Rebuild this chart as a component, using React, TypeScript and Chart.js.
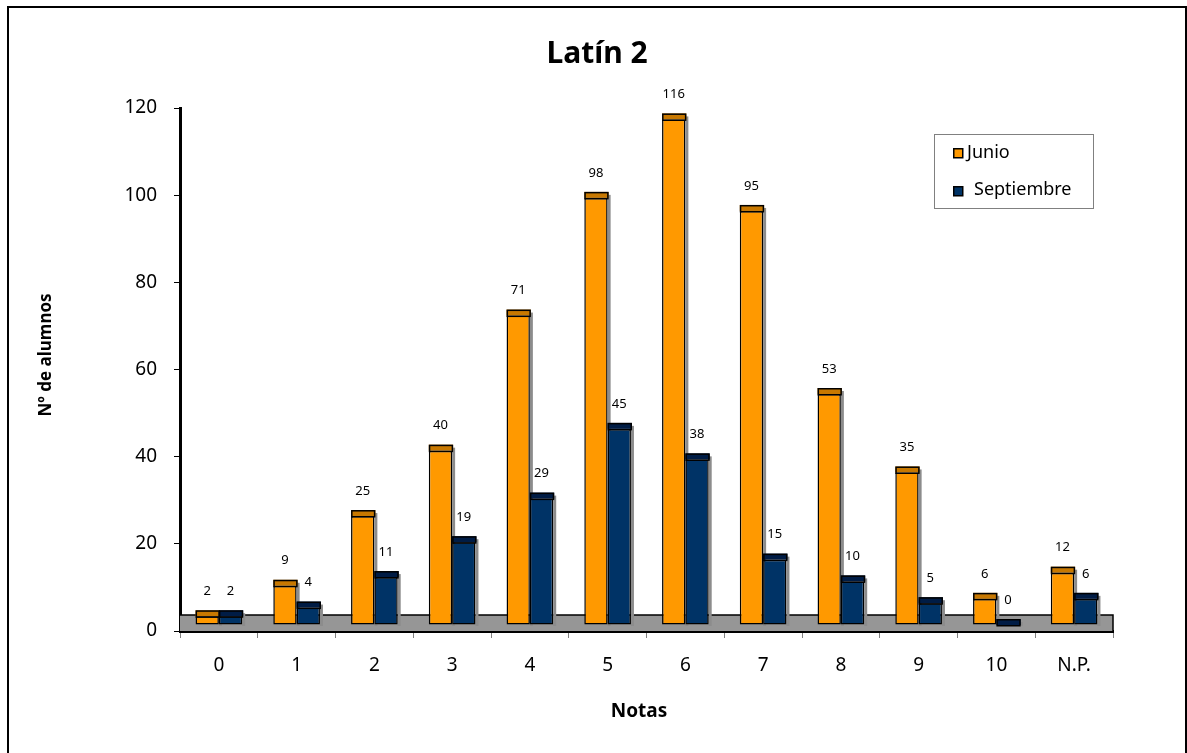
import React, { useEffect, useRef } from 'react';
import { Chart, registerables } from 'chart.js';

Chart.register(...registerables);

const categories = ['0', '1', '2', '3', '4', '5', '6', '7', '8', '9', '10', 'N.P.'];
const junio = [2, 9, 25, 40, 71, 98, 116, 95, 53, 35, 6, 12];
const septiembre = [2, 4, 11, 19, 29, 45, 38, 15, 10, 5, 0, 6];
const seriesNames = ['Junio', 'Septiembre'];
const yMin = 0;
const yMax = 120;
const yStep = 20;
const titleText = 'Latín 2';
const xTitle = 'Notas';
const yTitle = 'Nº de alumnos';

const FONT = '"Noto Sans", "DejaVu Sans", sans-serif';
const frontColors = ['#FF9900', '#003366'];
const capColors = ['#C87800', '#001C45'];
const SHIFT = 6;
const CAP = 6;

const decor = {
  id: 'decor',
  beforeDraw(chart: any) {
    const ctx = chart.ctx;
    ctx.save();
    ctx.fillStyle = '#ffffff';
    ctx.fillRect(0, 0, chart.width, chart.height);
    ctx.restore();
  },
  beforeDatasetsDraw(chart: any) {
    const ctx = chart.ctx;
    const { left, right, bottom } = chart.chartArea;
    ctx.save();
    // floor
    ctx.fillStyle = '#969696';
    ctx.fillRect(left, bottom - 16, right - left, 16);
    ctx.strokeStyle = '#000';
    ctx.lineWidth = 1.5;
    ctx.beginPath();
    ctx.moveTo(left, bottom - 16);
    ctx.lineTo(right, bottom - 16);
    ctx.lineTo(right, bottom);
    ctx.stroke();
    // side shadows
    const base = bottom - SHIFT;
    chart.data.datasets.forEach((ds: any, di: number) => {
      const meta = chart.getDatasetMeta(di);
      meta.data.forEach((el: any) => {
        const p = el.getProps(['x', 'y', 'width'], true);
        const r = p.x + p.width / 2;
        const top = p.y - SHIFT - CAP + 3;
        ctx.fillStyle = '#8c8c8c';
        ctx.fillRect(r, top, 3, base - top + 1);
      });
    });
    ctx.restore();
    ctx.save();
    ctx.translate(0, -SHIFT);
  },
  afterDatasetsDraw(chart: any) {
    const ctx = chart.ctx;
    ctx.restore();
    ctx.save();
    chart.data.datasets.forEach((ds: any, di: number) => {
      const meta = chart.getDatasetMeta(di);
      meta.data.forEach((el: any, i: number) => {
        const p = el.getProps(['x', 'y', 'width'], true);
        const l = p.x - p.width / 2;
        const top = p.y - SHIFT;
        ctx.fillStyle = capColors[di];
        ctx.fillRect(l, top - CAP, p.width + 1, CAP);
        ctx.strokeStyle = '#000';
        ctx.lineWidth = 1.5;
        ctx.strokeRect(l + 0.75, top - CAP + 0.75, p.width - 0.5, CAP);
        ctx.fillStyle = '#000';
        ctx.font = `13px ${FONT}`;
        ctx.textAlign = 'center';
        ctx.textBaseline = 'middle';
        ctx.fillText(String(ds.data[i]), p.x, top - 25);
      });
    });
    ctx.restore();
  },
  afterDraw(chart: any) {
    const ctx = chart.ctx;
    ctx.save();
    // title
    ctx.fillStyle = '#000';
    ctx.textAlign = 'center';
    ctx.textBaseline = 'alphabetic';
    ctx.font = `bold 30px ${FONT}`;
    ctx.fillText(titleText, 597, 63);
    // x title
    ctx.font = `bold 19px ${FONT}`;
    ctx.fillText(xTitle, 639, 717);
    // y title
    ctx.save();
    ctx.translate(51, 355);
    ctx.rotate(-Math.PI / 2);
    ctx.font = `bold 17px ${FONT}`;
    ctx.fillText(yTitle, 0, 0);
    ctx.restore();
    // legend
    ctx.fillStyle = '#fff';
    ctx.fillRect(934, 134, 159, 74);
    ctx.strokeStyle = '#808080';
    ctx.lineWidth = 1;
    ctx.strokeRect(934.5, 134.5, 159, 74);
    const items = [
      { sy: 148, tx: 967, ty: 153 },
      { sy: 186, tx: 974, ty: 190 },
    ];
    chart.data.datasets.forEach((ds: any, di: number) => {
      const it = items[di];
      ctx.fillStyle = ds.backgroundColor;
      ctx.fillRect(953, it.sy, 10, 10);
      ctx.strokeStyle = '#000';
      ctx.lineWidth = 1.5;
      ctx.strokeRect(953.75, it.sy + 0.75, 9, 9);
      ctx.fillStyle = '#000';
      ctx.font = `18px ${FONT}`;
      ctx.textAlign = 'left';
      ctx.textBaseline = 'middle';
      ctx.fillText(ds.label, it.tx, it.ty);
    });
    // frame
    ctx.strokeStyle = '#000';
    ctx.lineWidth = 2;
    ctx.strokeRect(8, 7, 1178, 760);
    ctx.restore();
  },
};

export default function App() {
  const ref = useRef<HTMLCanvasElement>(null);
  useEffect(() => {
    const chart = new Chart(ref.current as HTMLCanvasElement, {
      type: 'bar',
      data: {
        labels: categories,
        datasets: [
          {
            label: seriesNames[0],
            data: junio,
            backgroundColor: frontColors[0],
            borderColor: '#000',
            borderWidth: 1.5,
            borderSkipped: false,
            clip: false,
          },
          {
            label: seriesNames[1],
            data: septiembre,
            backgroundColor: frontColors[1],
            borderColor: '#000',
            borderWidth: 1.5,
            borderSkipped: false,
            clip: false,
          },
        ],
      } as any,
      options: {
        responsive: false,
        animation: false,
        devicePixelRatio: 1,
        layout: { padding: { top: 108, left: 0, right: 74, bottom: 0 } },
        datasets: { bar: { categoryPercentage: 0.6, barPercentage: 1.0 } },
        plugins: {
          legend: { display: false },
          title: { display: false },
          tooltip: { enabled: false },
        },
        scales: {
          x: {
            type: 'category',
            offset: true,
            grid: {
              display: true,
              drawOnChartArea: false,
              drawTicks: true,
              tickLength: 7,
              color: '#808080',
              offset: true,
            },
            border: { display: true, color: '#000', width: 3 },
            ticks: { font: { family: FONT, size: 19 }, color: '#000', padding: 16, maxRotation: 0 },
            afterFit(s: any) {
              s.height = 122;
            },
          },
          y: {
            min: yMin,
            max: yMax,
            ticks: { stepSize: yStep, font: { family: FONT, size: 19 }, color: '#000', padding: 17 },
            grid: {
              display: true,
              drawOnChartArea: false,
              drawTicks: true,
              tickLength: 6,
              color: '#000',
            },
            border: { display: true, color: '#000', width: 3 },
            afterFit(s: any) {
              s.width = 180;
            },
          },
        },
      } as any,
      plugins: [decor],
    });
    return () => chart.destroy();
  }, []);
  return (
    <div style={{ position: 'fixed', left: 0, top: 0, width: 1187, height: 753, background: '#fff' }}>
      <canvas ref={ref} width={1187} height={753} style={{ display: 'block', width: 1187, height: 753 }} />
    </div>
  );
}
